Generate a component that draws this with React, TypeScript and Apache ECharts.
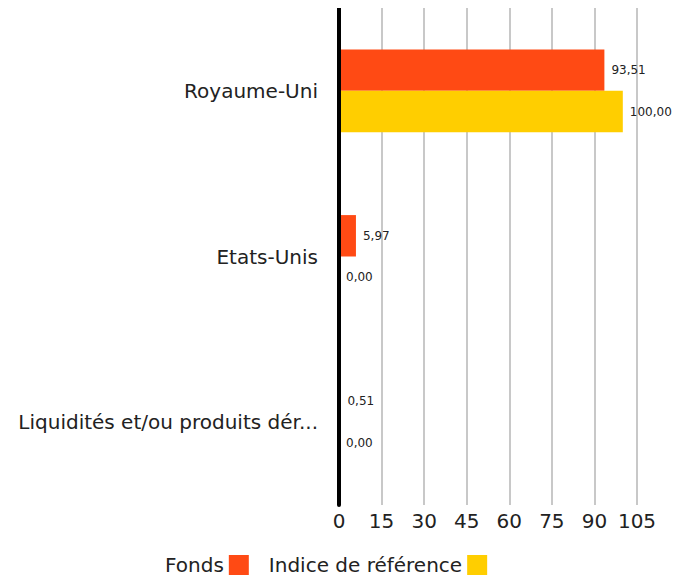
import React, { useEffect, useRef } from "react";
import * as echarts from "echarts";

const categories = ["Royaume-Uni", "Etats-Unis", "Liquidités et/ou produits dérivés"];
const fondsValues = [93.51, 5.97, 0.51];
const indiceValues = [100.0, 0.0, 0.0];
const seriesNames = ["Fonds", "Indice de référence"];
const xTicks = { min: 0, max: 105, interval: 15 };

const FONT = "'DejaVu Sans', sans-serif";

export default function App() {
  const ref = useRef<HTMLDivElement>(null);
  useEffect(() => {
    if (!ref.current) return;
    const chart = echarts.init(ref.current, null, { renderer: "svg" });
    const fmt = (p: any) => Number(p.value).toFixed(2).replace(".", ",");
    const labelStyle = {
      show: true,
      position: "right",
      distance: 7,
      formatter: fmt,
      fontSize: 12,
      color: "#222",
      fontFamily: FONT,
    };
    chart.setOption({
      animation: false,
      textStyle: { fontFamily: FONT },
      grid: { left: 331, right: 36, top: 0, bottom: 78, containLabel: false },
      legend: {
        top: 547,
        left: 157,
        align: "right",
        icon: "rect",
        itemWidth: 20,
        itemHeight: 20,
        itemGap: 20,
        padding: 0,
        textStyle: { fontSize: 20, color: "#222", fontFamily: FONT },
        data: seriesNames,
      },
      xAxis: {
        type: "value",
        min: xTicks.min,
        max: xTicks.max,
        interval: xTicks.interval,
        axisLine: { show: false },
        axisTick: { show: false },
        axisLabel: { fontSize: 20, color: "#222", margin: 6, fontFamily: FONT },
        splitLine: { show: true, lineStyle: { color: "#c8c8c8", width: 2 } },
      },
      yAxis: {
        type: "category",
        inverse: true,
        z: 5,
        data: categories,
        axisLine: { show: true, lineStyle: { color: "#000", width: 4 } },
        axisTick: { show: false },
        axisLabel: {
          fontSize: 20,
          color: "#222",
          margin: 21,
          width: 312,
          overflow: "truncate",
          ellipsis: "...",
          fontFamily: FONT,
        },
      },
      series: [
        {
          name: seriesNames[0],
          type: "bar",
          data: fondsValues,
          barWidth: "25%",
          barGap: "0%",
          itemStyle: { color: "#FF4A14" },
          label: labelStyle,
        },
        {
          name: seriesNames[1],
          type: "bar",
          data: indiceValues,
          barWidth: "25%",
          barGap: "0%",
          itemStyle: { color: "#FFCE00" },
          label: labelStyle,
        },
      ],
    });
    return () => chart.dispose();
  }, []);
  return <div ref={ref} style={{ width: 665, height: 575 }} />;
}
